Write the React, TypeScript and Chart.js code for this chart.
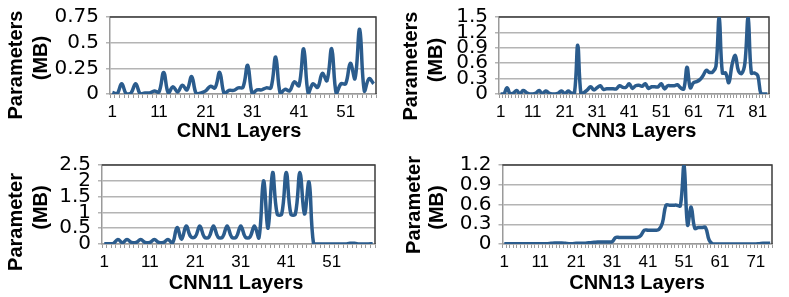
import React, { useEffect, useRef } from "react";
import { Chart, registerables } from "chart.js";

Chart.register(...registerables);

// ---------- data ----------
const cnn1Params = [
  0.015, 0.0, 0.1, 0.0, 0.01, 0.1, 0.0, 0.01, 0.01, 0.03,
  0.02, 0.21, 0.01, 0.07, 0.02, 0.085, 0.04, 0.17, 0.0, 0.01,
  0.03, 0.075, 0.06, 0.21, 0.0, 0.035, 0.035, 0.06, 0.065, 0.28,
  0.0, 0.04, 0.04, 0.06, 0.06, 0.36, 0.0, 0.045, 0.03, 0.12,
  0.08, 0.44, 0.0, 0.1, 0.065, 0.2, 0.13, 0.44, 0.0, 0.1,
  0.1, 0.3, 0.15, 0.63, 0.03, 0.15, 0.1,
];
const cnn3Params = [
  0, 0, 0.12, 0, 0.02, 0.07, 0, 0.07, 0.03, 0,
  0, 0.02, 0.07, 0, 0.06, 0.02, 0, 0, 0.02, 0.06,
  0, 0.06, 0.02, 0.03, 0.95, 0, 0.03, 0.08, 0.14, 0.08,
  0.12, 0.16, 0.09, 0.1, 0.1, 0.1, 0.1, 0.16, 0.13, 0.13,
  0.2, 0.11, 0.16, 0.17, 0.15, 0.2, 0.11, 0.14, 0.14, 0.14,
  0.2, 0.1, 0.16, 0.16, 0.16, 0.18, 0.12, 0.1, 0.52, 0.12,
  0.22, 0.24, 0.28, 0.36, 0.46, 0.42, 0.43, 0.54, 1.5, 0.41,
  0.41, 0.22, 0.57, 0.75, 0.45, 0.4, 0.6, 1.5, 0.41, 0.41,
  0.36, 0, 0, 0,
];
const cnn11Params = [
  0.01, 0.01, 0.02, 0.14, 0.04, 0.14, 0.05, 0.05, 0.14, 0.05,
  0.05, 0.14, 0.05, 0.05, 0.14, 0.03, 0.52, 0.15, 0.57, 0.23,
  0.23, 0.57, 0.22, 0.22, 0.57, 0.22, 0.22, 0.57, 0.22, 0.22,
  0.57, 0.22, 0.22, 0.57, 0.2, 2.0, 0.5, 2.26, 0.95, 0.95,
  2.26, 0.95, 0.95, 2.26, 0.95, 1.96, 0, 0, 0, 0,
  0, 0, 0, 0, 0.02, 0.02, 0, 0, 0, 0.01,
];
const cnn13Params = [
  0.005, 0.005, 0.005, 0.005, 0.005, 0.005, 0.005, 0.005, 0.005, 0.005,
  0.005, 0.005, 0.005, 0.01, 0.015, 0.015, 0.015, 0.01, 0.005, 0.005,
  0.01, 0.01, 0.01, 0.015, 0.02, 0.025, 0.03, 0.03, 0.03, 0.03,
  0.035, 0.1, 0.1, 0.1, 0.1, 0.1, 0.1, 0.1, 0.13, 0.21,
  0.21, 0.21, 0.21, 0.22, 0.32, 0.59, 0.59, 0.59, 0.59, 0.58,
  1.2, 0.29, 0.56, 0.24, 0.25, 0.25, 0.25, 0.06, 0, 0,
  0, 0, 0, 0, 0, 0, 0, 0, 0, 0,
  0, 0.005, 0.01, 0.01, 0.01,
];

const cnn1Layers = cnn1Params.map((_, i) => String(i + 1));
const cnn3Layers = cnn3Params.map((_, i) => String(i + 1));
const cnn11Layers = cnn11Params.map((_, i) => String(i + 1));
const cnn13Layers = cnn13Params.map((_, i) => String(i + 1));

const cnn1YTicks = [0, 0.25, 0.5, 0.75];
const cnn3YTicks = [0, 0.3, 0.6, 0.9, 1.2, 1.5];
const cnn11YTicks = [0, 0.5, 1, 1.5, 2, 2.5];
const cnn13YTicks = [0, 0.3, 0.6, 0.9, 1.2];

const cnn1XTicks = ["1", "11", "21", "31", "41", "51"];
const cnn3XTicks = ["1", "11", "21", "31", "41", "51", "61", "71", "81"];
const cnn11XTicks = ["1", "11", "21", "31", "41", "51"];
const cnn13XTicks = ["1", "11", "21", "31", "41", "51", "61", "71"];

const cnn1XTitle = "CNN1 Layers";
const cnn3XTitle = "CNN3 Layers";
const cnn11XTitle = "CNN11 Layers";
const cnn13XTitle = "CNN13 Layers";
const cnn1YTitle = ["Parameters", "(MB)"];
const cnn3YTitle = ["Parameters", "(MB)"];
const cnn11YTitle = ["Parameter", "(MB)"];
const cnn13YTitle = ["Parameter", "(MB)"];

// ---------- layout ----------
const LINE_COLOR = "#2b5c8d";
const TITLE_FONT = 'bold 20px "Liberation Sans", Arial, sans-serif';

type Box = {
  left: number; top: number; width: number; height: number;
  plotLeft: number; plotRight: number; plotTop: number; plotBottom: number;
  xTitle: [number, number];
  yTitle: [number, number][];
};

const box1: Box = { left: 0, top: 0, width: 395, height: 148, plotLeft: 110, plotRight: 376, plotTop: 12, plotBottom: 94, xTitle: [239, 131], yTitle: [[16, 65], [41, 58]] };
const box3: Box = { left: 395, top: 0, width: 394, height: 148, plotLeft: 104, plotRight: 374, plotTop: 12, plotBottom: 94, xTitle: [239, 131], yTitle: [[16, 66], [41, 60]] };
const box11: Box = { left: 0, top: 148, width: 395, height: 149, plotLeft: 102, plotRight: 375, plotTop: 13.5, plotBottom: 96, xTitle: [236, 135], yTitle: [[16, 74], [41, 59.5]] };
const box13: Box = { left: 395, top: 148, width: 394, height: 149, plotLeft: 107.5, plotRight: 377, plotTop: 14, plotBottom: 96, xTitle: [242, 135], yTitle: [[19, 57], [42, 59.5]] };

type PanelProps = {
  layers: string[]; params: number[]; yTicks: number[]; xTicks: string[];
  xTitle: string; yTitle: string[]; box: Box;
};

function Panel({ layers, params, yTicks, xTicks, xTitle, yTitle, box }: PanelProps) {
  const ref = useRef<HTMLCanvasElement | null>(null);
  useEffect(() => {
    if (!ref.current) return;
    const decor = {
      id: "decor",
      beforeDatasetsDraw(chart: any) {
        const { ctx, chartArea: a } = chart;
        ctx.save();
        ctx.strokeStyle = "#3c3c3c";
        ctx.lineWidth = 1.5;
        ctx.beginPath();
        ctx.moveTo(a.left, a.top);
        ctx.lineTo(a.right, a.top);
        ctx.lineTo(a.right, a.bottom);
        ctx.stroke();
        ctx.restore();
      },
      afterDraw(chart: any) {
        const ctx = chart.ctx;
        ctx.save();
        ctx.fillStyle = "#000";
        ctx.font = TITLE_FONT;
        ctx.textAlign = "center";
        ctx.textBaseline = "middle";
        ctx.fillText(xTitle, box.xTitle[0], box.xTitle[1]);
        yTitle.forEach((t, i) => {
          ctx.save();
          ctx.translate(box.yTitle[i][0], box.yTitle[i][1]);
          ctx.rotate(-Math.PI / 2);
          ctx.fillText(t, 0, 0);
          ctx.restore();
        });
        ctx.restore();
      },
    };
    const chart = new Chart(ref.current, {
      type: "line",
      data: {
        labels: layers,
        datasets: [
          {
            data: params,
            borderColor: LINE_COLOR,
            backgroundColor: LINE_COLOR,
            borderWidth: 3.5,
            tension: 0.4,
            pointRadius: 0,
            fill: false,
          },
        ],
      },
      options: {
        animation: false,
        responsive: false,
        maintainAspectRatio: false,
        layout: { padding: { left: 0, top: box.plotTop, right: box.width - box.plotRight, bottom: 0 } },
        plugins: { legend: { display: false }, tooltip: { enabled: false }, title: { display: false } },
        scales: {
          x: {
            type: "category",
            offset: true,
            grid: { offset: true, drawOnChartArea: false, drawTicks: true, tickLength: 4, color: "#9a9a9a", lineWidth: 1 },
            border: { display: true, color: "#9a9a9a", width: 1.5 },
            ticks: {
              autoSkip: false,
              maxRotation: 0,
              minRotation: 0,
              padding: 4,
              color: "#000",
              font: { family: '"Liberation Sans", Arial, sans-serif', size: 17 },
              callback: (_v: any, i: number) => (xTicks.includes(layers[i]) ? layers[i] : ""),
            },
            afterFit: (s: any) => { s.height = box.height - box.plotBottom; },
          },
          y: {
            min: 0,
            max: yTicks[yTicks.length - 1],
            grid: { color: "#b4b4b4", lineWidth: 1.5, tickLength: 4 },
            border: { display: true, color: "#9a9a9a", width: 1.5 },
            ticks: {
              autoSkip: false,
              padding: 7,
              color: "#000",
              font: { family: '"DejaVu Sans", Verdana, sans-serif', size: 20, lineHeight: 1 },
              callback: (v: any) => String(Math.round(Number(v) * 100) / 100),
            },
            afterBuildTicks: (s: any) => { s.ticks = yTicks.map((v) => ({ value: v })); },
            afterFit: (s: any) => { s.width = box.plotLeft; },
          },
        },
      },
      plugins: [decor],
    } as any);
    return () => chart.destroy();
  }, []);
  return (
    <canvas
      ref={ref}
      width={box.width}
      height={box.height}
      style={{ position: "absolute", left: box.left, top: box.top, width: box.width, height: box.height }}
    />
  );
}

export default function App() {
  return (
    <div style={{ position: "absolute", left: 0, top: 0, width: 789, height: 297, background: "#fff" }}>
      <Panel layers={cnn1Layers} params={cnn1Params} yTicks={cnn1YTicks} xTicks={cnn1XTicks} xTitle={cnn1XTitle} yTitle={cnn1YTitle} box={box1} />
      <Panel layers={cnn3Layers} params={cnn3Params} yTicks={cnn3YTicks} xTicks={cnn3XTicks} xTitle={cnn3XTitle} yTitle={cnn3YTitle} box={box3} />
      <Panel layers={cnn11Layers} params={cnn11Params} yTicks={cnn11YTicks} xTicks={cnn11XTicks} xTitle={cnn11XTitle} yTitle={cnn11YTitle} box={box11} />
      <Panel layers={cnn13Layers} params={cnn13Params} yTicks={cnn13YTicks} xTicks={cnn13XTicks} xTitle={cnn13XTitle} yTitle={cnn13YTitle} box={box13} />
    </div>
  );
}
